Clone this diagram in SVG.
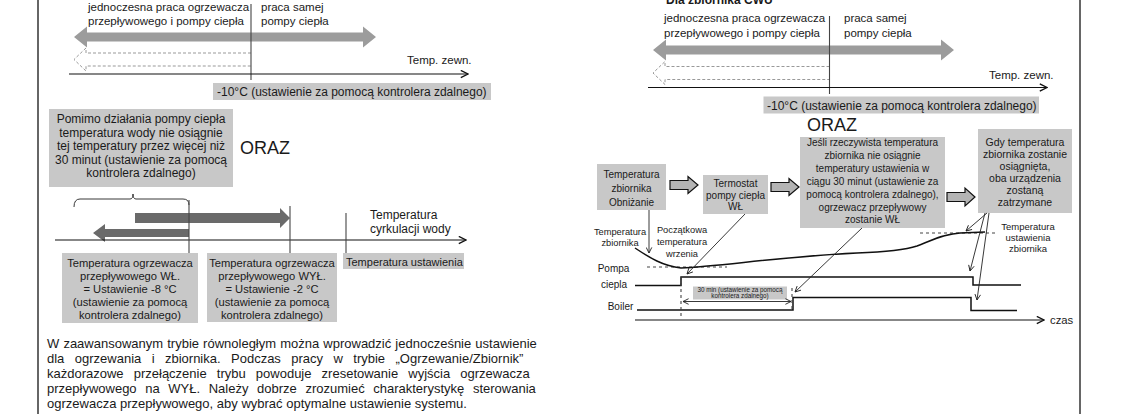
<svg xmlns="http://www.w3.org/2000/svg" width="1123" height="414" viewBox="0 0 1123 414">
<style>
.t{font-family:"Liberation Sans",Arial,sans-serif;fill:#1a1a1a}
.c{text-anchor:middle}
.box{fill:#c8c8c8}
.frame{stroke:#333;stroke-width:1.5;fill:none}
.div{stroke:#444;stroke-width:1.1;fill:none}
.ax{stroke:#111;stroke-width:1.2;fill:none}
.thin{stroke:#222;stroke-width:0.9;fill:none}
.sig{stroke:#111;stroke-width:1.5;fill:none}
.dash{stroke:#444;stroke-width:1.1;fill:none;stroke-dasharray:3 3}
.garr{fill:#9c9c9c}
.darr{fill:#6a6a6a}
.dotarr{fill:none;stroke:#999;stroke-width:1;stroke-dasharray:3 2}
.harr{fill:#b4b4b4;stroke:#111;stroke-width:1.2}
.p{font-size:13px}
</style>
<defs>
<marker id="ah" viewBox="0 0 10 10" refX="9" refY="5" markerWidth="9" markerHeight="9" markerUnits="userSpaceOnUse" orient="auto-start-reverse"><path d="M1,1 L9,5 L1,9" fill="none" stroke="#111" stroke-width="1.5"/></marker>
<marker id="as" viewBox="0 0 10 10" refX="9" refY="5" markerWidth="7" markerHeight="7" markerUnits="userSpaceOnUse" orient="auto-start-reverse"><path d="M1,1 L9,5 L1,9" fill="none" stroke="#222" stroke-width="1.3"/></marker>
</defs>
<rect width="1123" height="414" fill="#fff"/>

<g id="frames">
<line class="frame" x1="38" y1="0" x2="38" y2="414"/>
<line class="frame" x1="1080" y1="0" x2="1080" y2="414"/>
</g>

<!-- Top left: outdoor temperature -->
<g id="tl-labels">
<text class="t" x="88" y="10.5" font-size="11.5">jednoczesna praca ogrzewacza</text>
<text class="t" x="88" y="25" font-size="11.5">przepływowego i pompy ciepła</text>
<text class="t" x="261" y="10.5" font-size="11.5">praca samej</text>
<text class="t" x="261" y="25" font-size="11.5">pompy ciepła</text>
</g>
<g id="tl-arrows">
<polygon class="garr" points="74,37 87,26.5 87,32.5 363,32.5 363,26.5 376,37 363,47.5 363,41.5 87,41.5 87,47.5"/>
<path class="dotarr" d="M251,53 H86 V48 L74,59.5 L86,71 V66 H251"/>
<line class="div" x1="251" y1="4" x2="251" y2="80"/>
</g>
<g id="tl-axis">
<line class="ax" x1="69" y1="74" x2="468" y2="74" marker-end="url(#ah)"/>
<text class="t" x="407" y="64" font-size="11.5">Temp. zewn.</text>
</g>
<g id="tl-threshold">
<rect class="box" x="213" y="83" width="278" height="17"/>
<text class="t" x="217" y="96" font-size="12">-10°C (ustawienie za pomocą kontrolera zdalnego)</text>
</g>

<!-- Top right: DHW tank -->
<g id="tr-labels">
<text class="t" x="666" y="3.5" font-size="12" font-weight="bold">Dla zbiornika CWU</text>
<text class="t" x="664" y="22" font-size="11.5">jednoczesna praca ogrzewacza</text>
<text class="t" x="664" y="37" font-size="11.5">przepływowego i pompy ciepła</text>
<text class="t" x="844" y="22" font-size="11.5">praca samej</text>
<text class="t" x="844" y="37" font-size="11.5">pompy ciepła</text>
</g>
<g id="tr-arrows">
<polygon class="garr" points="653,50 666,39.5 666,45.5 941,45.5 941,39.5 954,50 941,60.5 941,54.5 666,54.5 666,60.5"/>
<path class="dotarr" d="M829.5,66.5 H665 V61.5 L653,73 L665,84.5 V79.5 H829.5"/>
<line class="div" x1="829.5" y1="16" x2="829.5" y2="94"/>
</g>
<g id="tr-axis">
<line class="ax" x1="648" y1="87.5" x2="1047" y2="87.5" marker-end="url(#ah)"/>
<text class="t" x="989" y="79" font-size="11.5">Temp. zewn.</text>
</g>
<g id="tr-threshold">
<rect class="box" x="763.5" y="96.5" width="275.5" height="17"/>
<text class="t" x="767" y="109.5" font-size="12">-10°C (ustawienie za pomocą kontrolera zdalnego)</text>
</g>

<!-- Middle left: water circulation temperature -->
<g id="ml-condition">
<rect class="box" x="49" y="109" width="184" height="78"/>
<text class="t c" x="141" y="123" font-size="12">Pomimo działania pompy ciepła</text>
<text class="t c" x="141" y="136.5" font-size="12">temperatura wody nie osiągnie</text>
<text class="t c" x="141" y="150" font-size="12">tej temperatury przez więcej niż</text>
<text class="t c" x="141" y="163.5" font-size="12">30 minut (ustawienie za pomocą</text>
<text class="t c" x="141" y="177" font-size="12">kontrolera zdalnego)</text>
</g>
<g id="ml-oraz"><text class="t" x="240" y="154" font-size="18">ORAZ</text></g>
<g id="ml-bars">
<polygon class="darr" points="135,213 280,213 280,208 290,218 280,228 280,223 135,223"/>
<polygon class="darr" points="93,233 105,224 105,229 189,229 189,237 105,237 105,242"/>
</g>
<g id="ml-axis">
<line class="ax" x1="55" y1="240" x2="466" y2="240" marker-end="url(#ah)"/>
<text class="t" x="370" y="219" font-size="12">Temperatura</text>
<text class="t" x="370" y="233" font-size="12">cyrkulacji wody</text>
</g>
<g id="ml-on">
<rect class="box" x="62" y="253" width="136" height="70"/>
<text class="t c" x="130" y="266.5" font-size="11.2">Temperatura ogrzewacza</text>
<text class="t c" x="130" y="279.5" font-size="11.2">przepływowego WŁ.</text>
<text class="t c" x="130" y="292.5" font-size="11.2">= Ustawienie -8 °C</text>
<text class="t c" x="130" y="305.5" font-size="11.2">(ustawienie za pomocą</text>
<text class="t c" x="130" y="318.5" font-size="11.2">kontrolera zdalnego)</text>
</g>
<g id="ml-off">
<rect class="box" x="207" y="253" width="130" height="69"/>
<text class="t c" x="272" y="266.5" font-size="11.2">Temperatura ogrzewacza</text>
<text class="t c" x="272" y="279.5" font-size="11.2">przepływowego WYŁ.</text>
<text class="t c" x="272" y="292.5" font-size="11.2">= Ustawienie -2 °C</text>
<text class="t c" x="272" y="305.5" font-size="11.2">(ustawienie za pomocą</text>
<text class="t c" x="272" y="318.5" font-size="11.2">kontrolera zdalnego)</text>
</g>
<g id="ml-set">
<rect class="box" x="343" y="253" width="121" height="16"/>
<text class="t" x="346" y="265.5" font-size="11">Temperatura ustawienia</text>
</g>

<!-- Paragraph -->
<g id="paragraph">
<text class="t p" x="47" y="348" word-spacing="0.5">W zaawansowanym trybie równoległym można wprowadzić jednocześnie ustawienie</text>
<text class="t p" x="47" y="363" word-spacing="6.8">dla ogrzewania i zbiornika. Podczas pracy w trybie „Ogrzewanie/Zbiornik”</text>
<text class="t p" x="47" y="378" word-spacing="6.5">każdorazowe przełączenie trybu powoduje zresetowanie wyjścia ogrzewacza</text>
<text class="t p" x="47" y="393" word-spacing="5">przepływowego na WYŁ. Należy dobrze zrozumieć charakterystykę sterowania</text>
<text class="t p" x="47" y="408">ogrzewacza przepływowego, aby wybrać optymalne ustawienie systemu.</text>
</g>

<!-- Right middle: sequence -->
<g id="rm-oraz"><text class="t" x="807" y="131" font-size="18">ORAZ</text></g>
<g id="rm-drop">
<rect class="box" x="597" y="164" width="69" height="46"/>
<text class="t c" x="631.5" y="177.5" font-size="10">Temperatura</text>
<text class="t c" x="631.5" y="191.5" font-size="10">zbiornika</text>
<text class="t c" x="631.5" y="205.5" font-size="10">Obniżanie</text>
</g>
<g id="rm-thermo">
<rect class="box" x="703" y="175" width="65" height="39"/>
<text class="t c" x="735.5" y="186.5" font-size="10">Termostat</text>
<text class="t c" x="735.5" y="198.5" font-size="10">pompy ciepła</text>
<text class="t c" x="735.5" y="210" font-size="10">WŁ</text>
</g>
<g id="rm-if">
<rect class="box" x="800" y="137" width="145" height="91"/>
<text class="t c" x="872.5" y="145.5" font-size="10">Jeśli rzeczywista temperatura</text>
<text class="t c" x="872.5" y="158.5" font-size="10">zbiornika nie osiągnie</text>
<text class="t c" x="872.5" y="171.5" font-size="10">temperatury ustawienia w</text>
<text class="t c" x="872.5" y="184.5" font-size="10">ciągu 30 minut (ustawienie za</text>
<text class="t c" x="872.5" y="197.5" font-size="10">pomocą kontrolera zdalnego),</text>
<text class="t c" x="872.5" y="210.5" font-size="10">ogrzewacz przepływowy</text>
<text class="t c" x="872.5" y="223" font-size="10">zostanie WŁ</text>
</g>
<g id="rm-stop">
<rect class="box" x="978" y="129" width="94" height="84"/>
<text class="t c" x="1025" y="145.5" font-size="10.5">Gdy temperatura</text>
<text class="t c" x="1025" y="157.5" font-size="10.5">zbiornika zostanie</text>
<text class="t c" x="1025" y="169.5" font-size="10.5">osiągnięta,</text>
<text class="t c" x="1025" y="181.5" font-size="10.5">oba urządzenia</text>
<text class="t c" x="1025" y="193.5" font-size="10.5">zostaną</text>
<text class="t c" x="1025" y="205.5" font-size="10.5">zatrzymane</text>
</g>
<g id="rm-labels">
<text class="t c" x="620" y="235" font-size="9.3">Temperatura</text>
<text class="t c" x="620" y="246" font-size="9.3">zbiornika</text>
<text class="t c" x="682" y="233" font-size="9.3">Początkowa</text>
<text class="t c" x="682" y="245" font-size="9.3">temperatura</text>
<text class="t c" x="682" y="257" font-size="9.3">wrzenia</text>
<text class="t c" x="1028" y="230" font-size="9.5">Temperatura</text>
<text class="t c" x="1028" y="241" font-size="9.5">ustawienia</text>
<text class="t c" x="1028" y="252" font-size="9.5">zbiornika</text>
<text class="t c" x="613.5" y="271.5" font-size="10">Pompa</text>
<text class="t c" x="614" y="288" font-size="10">ciepla</text>
<text class="t c" x="620.5" y="310" font-size="10">Boiler</text>
<text class="t" x="1050" y="324" font-size="11.3">czas</text>
</g>
<g id="rm-30min">
<rect class="box" x="693" y="286.5" width="94" height="13"/>
<text class="t c" x="740" y="292.3" font-size="6.3">30 min (ustawienie za pomocą</text>
<text class="t c" x="740" y="298.3" font-size="6.3">kontrolera zdalnego)</text>
</g>

<g id="connectors">
<polygon class="harr" points="670,180.5 688,180.5 688,176.5 698,185 688,193.5 688,189.5 670,189.5"/>
<polygon class="harr" points="771,182.5 789,182.5 789,178.5 799,187 789,195.5 789,191.5 771,191.5"/>
<polygon class="harr" points="947,192.5 965,192.5 965,188 975,197 965,206 965,201.5 947,201.5"/>
<path class="dash" d="M647,267 H727"/>
<path class="dash" d="M920,233 H998"/>
<path class="sig" stroke-width="1.4" d="M635,248 C650,258 663,266 681,268 C720,266 790,256 857,253 C885,252 905,250 917,246 C930,241 943,234 960,233 L985,232"/>
<path class="sig" d="M635,285.5 H681 V277 H973 V285 H1021"/>
<path class="sig" d="M637,310 H793 V297.5 H971 V310.5 H1017"/>
<line class="ax" x1="635" y1="320" x2="1044" y2="320" marker-end="url(#ah)"/>
<path class="dash" stroke-dasharray="2 2" d="M681,277 V318"/>
<path class="dash" stroke-dasharray="2 2" d="M792,288 V309"/>
<line class="thin" x1="683" y1="301.5" x2="791" y2="301.5" marker-start="url(#as)" marker-end="url(#as)"/>
<line class="thin" x1="649" y1="210" x2="649" y2="253" marker-end="url(#as)"/>
<line class="thin" x1="745" y1="214" x2="687" y2="274" marker-end="url(#as)"/>
<line class="thin" x1="862" y1="228" x2="795" y2="292" marker-end="url(#as)"/>
<line class="thin" x1="987" y1="213" x2="966" y2="231" marker-end="url(#as)"/>
<line class="thin" x1="985" y1="213" x2="970" y2="271" marker-end="url(#as)"/>
<line class="thin" x1="989" y1="213" x2="977" y2="300" marker-end="url(#as)"/>
<path class="thin" stroke-width="1.2" d="M74,207 Q74,199 80,199 L130,199 Q133,199 133,194 Q133,199 136,199 L183,199 Q189,199 189,205"/>
<line class="div" x1="189" y1="200" x2="189" y2="253"/>
<line class="div" x1="290" y1="206" x2="290" y2="253"/>
<line class="div" x1="346" y1="213" x2="346" y2="253"/>
</g>
</svg>
